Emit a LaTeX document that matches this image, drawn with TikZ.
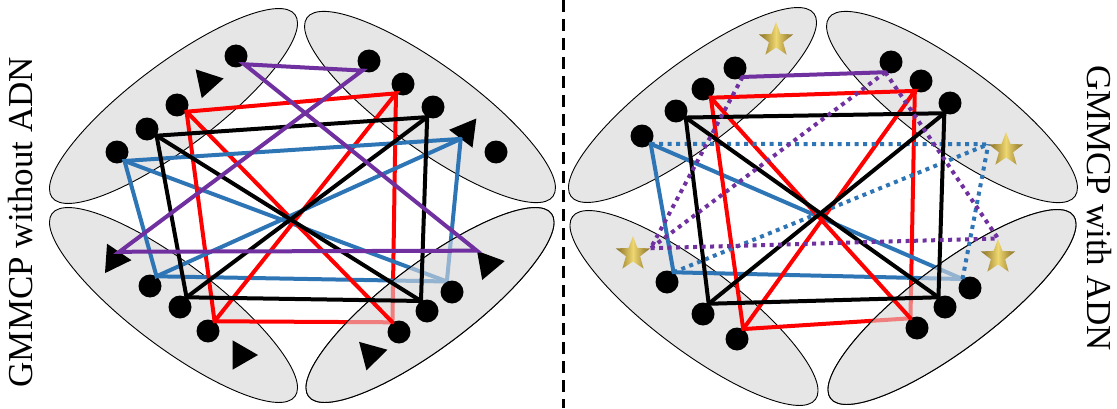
\documentclass[tikz,border=0pt]{standalone}
\usepackage{fontspec}
\setmainfont{Liberation Serif}
\usetikzlibrary{shapes.geometric}

\definecolor{linkred}{RGB}{255,0,0}
\definecolor{linkblue}{RGB}{46,117,182}
\definecolor{linkpurple}{RGB}{112,48,160}
\definecolor{blobgray}{RGB}{230,230,230}
\definecolor{golddark}{RGB}{135,110,35}
\definecolor{goldlight}{RGB}{238,214,112}

\pgfdeclarelayer{back}
\pgfsetlayers{back,main}

\begin{document}
\begin{tikzpicture}[x=1pt,y=1pt,
    dot/.style={circle,fill=black,minimum size=23pt,inner sep=0pt},
    tri/.style={regular polygon,regular polygon sides=3,fill=black,minimum size=34pt,inner sep=0pt},
    gold/.style={star,star points=5,star point ratio=2.4,minimum size=36pt,inner sep=0pt,
      left color=golddark,right color=golddark,middle color=goldlight},
    blob/.style={fill=blobgray,draw=black,line width=0.9pt},
    veil/.style={fill=blobgray,fill opacity=0.55,draw=black,line width=0.9pt},
    link/.style={line width=4pt,line cap=round},
    miss/.style={line width=4pt,dash pattern=on 4pt off 4.5pt}]
  \useasboundingbox (0,0) rectangle (1117,408);

  % ---- left: without ADN ----
  \node[dot] (a1) at (236,352) {};
  \node[dot] (a2) at (177,303) {};
  \node[dot] (a3) at (147,279) {};
  \node[dot] (a4) at (117,256) {};
  \node[tri,rotate=-78] (t1) at (207,326) {};
  \node[dot] (b1) at (369,347) {};
  \node[dot] (b2) at (403,324) {};
  \node[dot] (b3) at (433,301) {};
  \node[dot] (b4) at (496,256) {};
  \node[tri,rotate=82.5] (t2) at (466,276) {};
  \node[tri,rotate=-94] (t3) at (114.5,149) {};
  \node[dot] (c1) at (150,122) {};
  \node[dot] (c2) at (180,101) {};
  \node[dot] (c3) at (208,77) {};
  \node[tri,rotate=-90] (t4) at (241,53) {};
  \node[tri,rotate=-80] (t5) at (488,144) {};
  \node[dot] (d1) at (452,116) {};
  \node[dot] (d2) at (427,97) {};
  \node[dot] (d3) at (399,76) {};
  \node[tri,rotate=-75.5] (t6) at (371,54) {};

  % ---- right: with ADN ----
  \node[gold] (e0) at (776,368) {};
  \node[dot] (e1) at (735,340) {};
  \node[dot] (e2) at (703,319) {};
  \node[dot] (e3) at (676,297) {};
  \node[dot] (e4) at (642,272) {};
  \node[dot] (f1) at (891,346) {};
  \node[dot] (f2) at (921,327) {};
  \node[dot] (f3) at (950,305) {};
  \node[gold] (f4) at (1006,258) {};
  \node[gold] (g0) at (633,154) {};
  \node[dot] (g1) at (667,126) {};
  \node[dot] (g2) at (703,94) {};
  \node[dot] (g3) at (737,69) {};
  \node[gold] (h0) at (998,151) {};
  \node[dot] (h1) at (970,120) {};
  \node[dot] (h2) at (945,101) {};
  \node[dot] (h3) at (917,80) {};

  \begin{pgfonlayer}{back}
    % clusters
    \draw[blob,rotate around={37:(173.5,302)}] (173.5,302) ellipse[x radius=152,y radius=42];
    \draw[blob,rotate around={-36:(430,301)}] (430,301) ellipse[x radius=152,y radius=42];
    \draw[blob,rotate around={-37:(173.5,103)}] (173.5,103) ellipse[x radius=152,y radius=42];
    \draw[blob,rotate around={37:(430,103)}] (430,103) ellipse[x radius=152,y radius=42];
    \draw[blob,rotate around={37:(692.5,303)}] (692.5,303) ellipse[x radius=152,y radius=42];
    \draw[blob,rotate around={-36:(952,301)}] (952,301) ellipse[x radius=152,y radius=42];
    \draw[blob,rotate around={-37:(694,100)}] (694,100) ellipse[x radius=152,y radius=42];
    \draw[blob,rotate around={37:(952,101)}] (952,101) ellipse[x radius=152,y radius=42];
    % links that run under the lower right cluster
    \draw[link,linkred] (c3.56) -- (d3.124);
    \draw[link,linkred] (b2.-127) -- (d3.124);
    \draw[link,linkblue] (c1.56) -- (d1.116);
    \draw[link,linkblue] (a4.-50) -- (d1.116);
    \draw[link,linkblue] (t2.side 1) -- (d1.116);
    \draw[link,linkred] (g3.58) -- (h3.124);
    \draw[link,linkred] (f2.-122) -- (h3.124);
    \draw[link,linkblue] (g1.56) -- (h1.130);
    \draw[link,linkblue] (e4.-42) -- (h1.130);
    \draw[veil,rotate around={37:(430,103)}] (430,103) ellipse[x radius=152,y radius=42];
    \draw[veil,rotate around={37:(952,101)}] (952,101) ellipse[x radius=152,y radius=42];
  \end{pgfonlayer}

  % left tracks
  \draw[link,linkred] (c3.56) -- (a2.-35) -- (b2.-127) -- (c3.56);
  \draw[link,linkred] (a2.-35) -- (d3.124);
  \draw[link,linkblue] (t2.side 1) -- (a4.-50) -- (c1.56) -- (t2.side 1);
  \draw[link] (a3.-35) -- (b3.-120) -- (d2.121) -- (c2.56) -- cycle;
  \draw[link] (a3.-35) -- (d2.121);
  \draw[link] (c2.56) -- (b3.-120);
  \draw[link,linkpurple] (a1.south east) -- (b1.-125) -- (t3.side 1) -- (t5.corner 2) -- cycle;

  % right tracks
  \draw[link,linkred] (g3.58) -- (e2.-48) -- (f2.-122) -- (g3.58);
  \draw[link,linkred] (e2.-48) -- (h3.124);
  \draw[link,linkblue] (e4.-42) -- (g1.56);
  \draw[miss,linkblue] (e4.-42) -- (f4.outer point 2);
  \draw[miss,linkblue] (g1.56) -- (f4.outer point 2);
  \draw[miss,linkblue] (h1.130) -- (f4.outer point 2);
  \draw[link] (e3.-34) -- (f3.-119) -- (h2.124) -- (g2.61) -- cycle;
  \draw[link] (e3.-34) -- (h2.124);
  \draw[link] (g2.61) -- (f3.-119);
  \draw[link,linkpurple] (e1.-50) -- (f1.-119);
  \draw[miss,linkpurple] (e1.-50) -- (g0.outer point 5);
  \draw[miss,linkpurple] (f1.-119) -- (g0.outer point 5);
  \draw[miss,linkpurple] (f1.-119) -- (h0.outer point 1);
  \draw[miss,linkpurple] (g0.outer point 5) -- (h0.outer point 1);

  \draw[line width=3pt,dash pattern=on 12pt off 7pt] (563,408) -- (563,0);

  \node[rotate=90,font=\fontsize{35}{42}\selectfont] (lefttitle) at (21,186) {GMMCP without ADN};
  \node[rotate=-90,font=\fontsize{35}{42}\selectfont] (righttitle) at (1099,200) {GMMCP with ADN};
\end{tikzpicture}
\end{document}
